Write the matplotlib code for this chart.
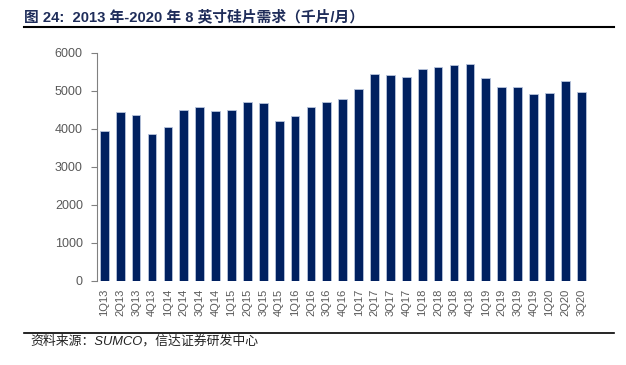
import numpy as np
import matplotlib
matplotlib.use("Agg")
import matplotlib.pyplot as plt

plt.rcParams['font.family'] = ['Liberation Sans', 'Noto Sans CJK SC', 'DejaVu Sans']

# 季度标签
quarters = ['1Q13', '2Q13', '3Q13', '4Q13', '1Q14', '2Q14', '3Q14', '4Q14',
            '1Q15', '2Q15', '3Q15', '4Q15', '1Q16', '2Q16', '3Q16', '4Q16',
            '1Q17', '2Q17', '3Q17', '4Q17', '1Q18', '2Q18', '3Q18', '4Q18',
            '1Q19', '2Q19', '3Q19', '4Q19', '1Q20', '2Q20', '3Q20']
# 8英寸硅片需求（千片/月）
demand = [3940, 4440, 4350, 3850, 4040, 4480, 4580, 4460,
          4500, 4690, 4680, 4190, 4330, 4560, 4690, 4780,
          5040, 5440, 5400, 5360, 5560, 5620, 5670, 5700,
          5340, 5090, 5090, 4920, 4940, 5250, 4960]
yticks = [0, 1000, 2000, 3000, 4000, 5000, 6000]

title = "图 24:  2013 年-2020 年 8 英寸硅片需求（千片/月）"
source = "资料来源：SUMCO，信达证券研发中心"

fig = plt.figure(figsize=(6.26, 3.65), dpi=100)
ax = fig.add_axes([0.1545, 0.231, 0.786, 0.6247])

x = np.arange(len(quarters))
ax.bar(x, demand, 0.55, color="#002060", edgecolor="#b8c4dc", linewidth=0.6, zorder=3)

ax.set_xlim(-0.478, len(quarters) - 1 + 0.478)
ax.set_ylim(0, 6000)
ax.set_yticks(yticks)
ax.set_xticks(x)
ax.set_xticklabels(quarters, rotation=90, fontsize=8, color="#595959")
ax.tick_params(axis='x', length=0, pad=6)
ax.tick_params(axis='y', labelsize=9, labelcolor="#595959", color="#808080", length=4, pad=6)

for s in ['top', 'right', 'bottom']:
    ax.spines[s].set_visible(False)
ax.spines['left'].set_color("#808080")
ax.spines['left'].set_linewidth(0.8)

# 标题和横线
fig.text(24 / 626, 1 - 17 / 365, title, fontsize=10.6, fontweight='bold',
         color="#1f2d5a", va='center', ha='left')
fig.add_artist(plt.Line2D([24 / 626, 614 / 626], [1 - 27 / 365, 1 - 27 / 365],
                          color="black", linewidth=1.5))
# 底部来源
fig.add_artist(plt.Line2D([24 / 626, 614 / 626], [1 - 333 / 365, 1 - 333 / 365],
                          color="black", linewidth=1.2))
fig.text(30 / 626, 1 - 341 / 365, source, fontsize=9.3, style='italic',
         color="#222222", va='center', ha='left')

fig.savefig("out.png", dpi=100)
